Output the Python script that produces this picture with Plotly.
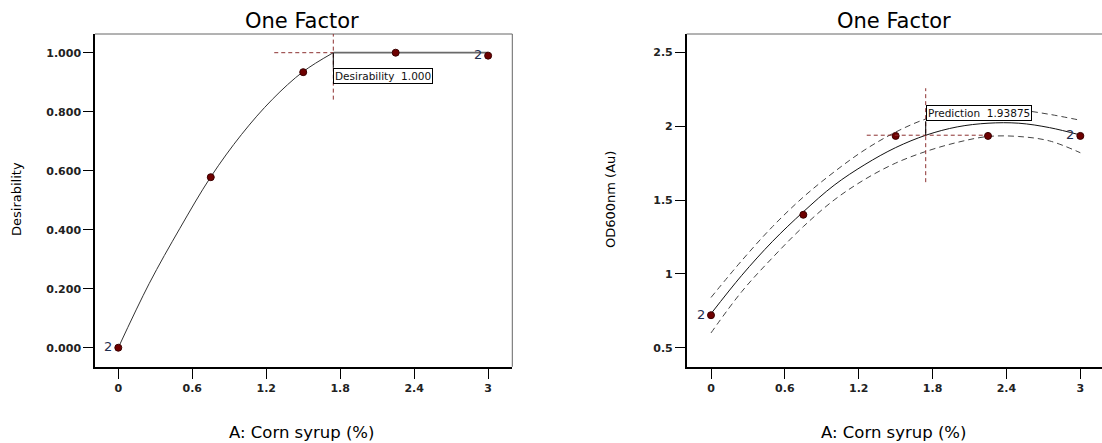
import plotly.graph_objects as go

# Design points: corn syrup level (%) and observed responses
corn_syrup = [0.0, 0.75, 1.5, 2.25, 3.0]
od600_obs = [0.72, 1.40, 1.934, 1.934, 1.934]
desirability_obs = [0.0, 0.578, 0.934, 1.0, 0.99]
replicates = [2, 1, 1, 1, 2]

# Fitted OD600 model with its confidence band
grid_x = [0.0, 0.25, 0.5, 0.75, 1.0, 1.25, 1.5, 1.75, 2.0, 2.25, 2.5, 2.75, 3.0]
od600_fit = [0.73, 0.99, 1.22, 1.42, 1.60, 1.74, 1.855, 1.94, 1.995, 2.02, 2.02, 1.99, 1.94]
od600_upper = [0.84, 1.09, 1.32, 1.52, 1.69, 1.84, 1.96, 2.05, 2.10, 2.12, 2.11, 2.08, 2.04]
od600_lower = [0.60, 0.88, 1.11, 1.32, 1.50, 1.64, 1.75, 1.83, 1.89, 1.93, 1.93, 1.90, 1.82]

# Desirability curve up to the optimum, flat at its maximum afterwards
desir_curve_x = [0.0, 0.25, 0.5, 0.75, 1.0, 1.25, 1.5, 1.744]
desir_curve_y = [0.0, 0.217, 0.405, 0.579, 0.723, 0.842, 0.936, 1.0]

# Optimum settings
optimum_x = 1.744
optimum_desirability = 1.000
optimum_prediction = 1.93875

x_tick_vals = [0, 0.6, 1.2, 1.8, 2.4, 3]
x_tick_text = ["0", "0.6", "1.2", "1.8", "2.4", "3"]
desir_tick_vals = [0.0, 0.2, 0.4, 0.6, 0.8, 1.0]
od_tick_vals = [0.5, 1.0, 1.5, 2.0, 2.5]
od_tick_text = ["0.5", "1", "1.5", "2", "2.5"]

W, H = 1102, 443
FONT = "DejaVu Sans"
POINT_COLOR = "#6e0000"
CROSS_COLOR = "#8c3030"
LABEL_COLOR = "#1f2f4f"

fig = go.Figure()

# ---- left panel: desirability ----
fig.add_trace(go.Scatter(x=desir_curve_x, y=desir_curve_y, mode="lines",
                         line=dict(color="#333333", width=1, shape="spline"),
                         xaxis="x", yaxis="y", showlegend=False, hoverinfo="skip"))
fig.add_trace(go.Scatter(x=[optimum_x, corn_syrup[-1]], y=[optimum_desirability, optimum_desirability],
                         mode="lines", line=dict(color="#6a6a6a", width=1.8),
                         xaxis="x", yaxis="y", showlegend=False, hoverinfo="skip"))
fig.add_trace(go.Scatter(x=corn_syrup, y=desirability_obs, mode="markers",
                         marker=dict(color=POINT_COLOR, size=7, line=dict(color="#3a0000", width=1)),
                         xaxis="x", yaxis="y", showlegend=False))

# ---- right panel: OD600 prediction ----
for band in (od600_upper, od600_lower):
    fig.add_trace(go.Scatter(x=grid_x, y=band, mode="lines",
                             line=dict(color="#444444", width=1, dash="6px,4px", shape="spline"),
                             xaxis="x2", yaxis="y2", showlegend=False, hoverinfo="skip"))
fig.add_trace(go.Scatter(x=grid_x, y=od600_fit, mode="lines",
                         line=dict(color="#111111", width=1, shape="spline"),
                         xaxis="x2", yaxis="y2", showlegend=False, hoverinfo="skip"))
fig.add_trace(go.Scatter(x=corn_syrup, y=od600_obs, mode="markers",
                         marker=dict(color=POINT_COLOR, size=7, line=dict(color="#3a0000", width=1)),
                         xaxis="x2", yaxis="y2", showlegend=False))

# panel geometry (pixels)
y_dom = [(H - 366.8) / H, (H - 34) / H]
left_dom = [95 / W, 512.3 / W]
right_dom = [686.7 / W, 1.0]
left_xrange = [-0.189, 3.196]
right_xrange = [-0.1974, 3.176]
left_yrange = [-0.0647, 1.0634]
right_yrange = [0.3707, 2.624]

tickfont = dict(family=FONT, size=11, color="#222222", weight="bold")
axis_common = dict(showline=True, linecolor="black", linewidth=1.5, ticks="outside",
                   ticklen=10, tickcolor="black", tickwidth=1, showgrid=False,
                   zeroline=False, tickfont=tickfont, mirror=False)

fig.update_layout(
    width=W, height=H,
    margin=dict(l=0, r=0, t=0, b=0),
    paper_bgcolor="white", plot_bgcolor="white",
    xaxis=dict(domain=left_dom, range=left_xrange, anchor="y",
               tickvals=x_tick_vals, ticktext=x_tick_text, **axis_common),
    yaxis=dict(domain=y_dom, range=left_yrange, anchor="x",
               tickvals=desir_tick_vals, tickformat=".3f", **axis_common),
    xaxis2=dict(domain=right_dom, range=right_xrange, anchor="y2",
                tickvals=x_tick_vals, ticktext=x_tick_text, **axis_common),
    yaxis2=dict(domain=y_dom, range=right_yrange, anchor="x2",
                tickvals=od_tick_vals, ticktext=od_tick_text, **axis_common),
)

shapes = []
# light top/right frame lines
shapes.append(dict(type="line", xref="x domain", yref="y domain", x0=0, x1=1, y0=1, y1=1,
                   line=dict(color="#666666", width=1)))
shapes.append(dict(type="line", xref="x domain", yref="y domain", x0=1, x1=1, y0=0, y1=1,
                   line=dict(color="#666666", width=1)))
shapes.append(dict(type="line", xref="x2 domain", yref="y2 domain", x0=0, x1=1, y0=1, y1=1,
                   line=dict(color="#666666", width=1)))

# crosshairs at the optimum
cross_half_x = 0.479
left_half_y = 0.159
right_half_y = 0.318
cross_line = dict(color=CROSS_COLOR, width=1, dash="4px,3px")
shapes += [
    dict(type="line", xref="x", yref="y", x0=optimum_x - cross_half_x, x1=optimum_x,
         y0=optimum_desirability, y1=optimum_desirability, line=cross_line),
    dict(type="line", xref="x", yref="y", x0=optimum_x, x1=optimum_x,
         y0=optimum_desirability - left_half_y, y1=left_yrange[1], line=cross_line),
    dict(type="line", xref="x2", yref="y2", x0=optimum_x - cross_half_x, x1=optimum_x + cross_half_x,
         y0=optimum_prediction, y1=optimum_prediction, line=cross_line),
    dict(type="line", xref="x2", yref="y2", x0=optimum_x, x1=optimum_x,
         y0=optimum_prediction - right_half_y, y1=optimum_prediction + right_half_y, line=cross_line),
]
fig.update_layout(shapes=shapes)

ann = []
# value boxes
ann.append(dict(x=optimum_x, y=optimum_desirability, xref="x", yref="y",
                text=f"Desirability\u00a0\u00a0{optimum_desirability:.3f}",
                showarrow=True, arrowhead=0, arrowwidth=1, arrowcolor="black",
                ax=0, ay=15, xanchor="left", yanchor="top",
                bordercolor="black", borderwidth=1, borderpad=1, bgcolor="white",
                font=dict(family=FONT, size=10.5, color="#111111")))
ann.append(dict(x=optimum_x, y=optimum_prediction, xref="x2", yref="y2",
                text=f"Prediction\u00a0\u00a0{optimum_prediction:.5f}",
                showarrow=True, arrowhead=0, arrowwidth=1, arrowcolor="black",
                ax=0, ay=-14, xanchor="left", yanchor="bottom",
                bordercolor="black", borderwidth=1, borderpad=1, bgcolor="white",
                font=dict(family=FONT, size=10.5, color="#111111")))

# replicate counts next to repeated design points
for xv, dv, ov, n in zip(corn_syrup, desirability_obs, od600_obs, replicates):
    if n > 1:
        for xr, yr, yv in (("x", "y", dv), ("x2", "y2", ov)):
            ann.append(dict(x=xv, y=yv, xref=xr, yref=yr, text=str(n), showarrow=False,
                            xanchor="right", yanchor="middle", xshift=-4, yshift=1,
                            font=dict(family=FONT, size=13, color=LABEL_COLOR)))

# panel titles and axis titles
for cx in (302, 894):
    ann.append(dict(x=cx / W, y=1 - 21 / H, xref="paper", yref="paper", text="One Factor",
                    showarrow=False, xanchor="center", yanchor="middle",
                    font=dict(family=FONT, size=21, color="black")))
    ann.append(dict(x=cx / W, y=1 - 432 / H, xref="paper", yref="paper", text="A: Corn syrup (%)",
                    showarrow=False, xanchor="center", yanchor="middle",
                    font=dict(family=FONT, size=16.5, color="black")))
ann.append(dict(x=16 / W, y=1 - 199 / H, xref="paper", yref="paper", text="Desirability",
                showarrow=False, textangle=-90, xanchor="center", yanchor="middle",
                font=dict(family=FONT, size=13, color="black")))
ann.append(dict(x=611 / W, y=1 - 200 / H, xref="paper", yref="paper", text="OD600nm (Au)",
                showarrow=False, textangle=-90, xanchor="center", yanchor="middle",
                font=dict(family=FONT, size=13, color="black")))
fig.update_layout(annotations=ann)

fig.write_html("out.html")
